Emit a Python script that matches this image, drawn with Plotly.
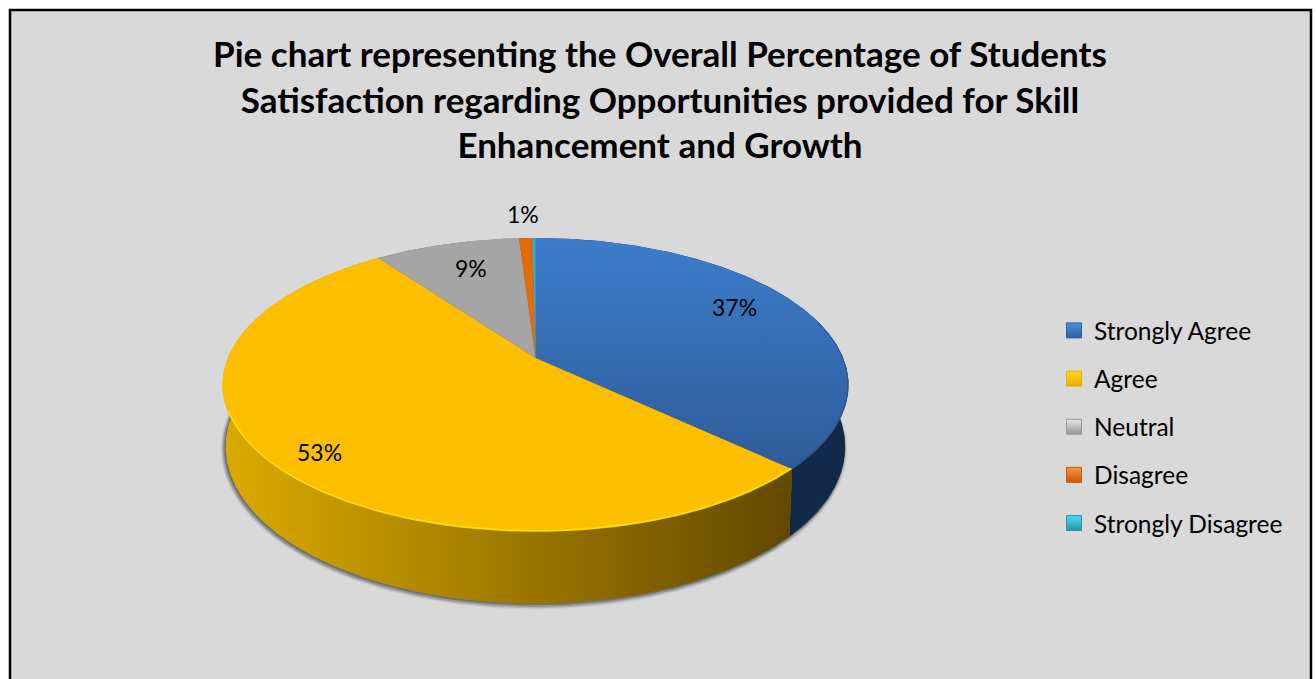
import numpy as np
import plotly.graph_objects as go

categories = ["Strongly Agree", "Agree", "Neutral", "Disagree", "Strongly Disagree"]
values = [37, 53, 9, 0.8, 0.2]
title_lines = [
    "Pie chart representing the Overall Percentage of Students",
    "Satisfaction regarding Opportunities provided for Skill",
    "Enhancement and Growth",
]

# styling
FONT = "Lato"
BG = "#d9d9d9"
legend_colors = ["#2f5f9f", "#e8ae00", "#969696", "#c85a08", "#2a93ad"]
legend_light = ["#4d8fdc", "#ffd820", "#e6e6e6", "#f79646", "#4fd8f5"]
top_grad = [["#3c7ccb", "#2e5c99"], ["#fcbf00", "#fcbf00"], ["#a5a5a5", "#a5a5a5"],
            ["#e36c09", "#e36c09"], ["#2fb0cc", "#2fb0cc"]]
wall_grad = [["#13294a", "#13294a"], ["#dcab00", "#624800"], ["#777777", "#777777"],
             ["#8a4206", "#8a4206"], ["#1a6a80", "#1a6a80"]]
label_xy = [(734, 307), (319, 452), (471, 268), (523, 214)]

# projection of the pie's top and bottom discs (perspective circle, pixel space)
CX = 535.5
TOP = dict(y0=358.0, a=0.1836, A=307.7, B=142.0)
BOT = dict(y0=418.0, a=0.1836, A=304.5, B=151.6)


def project(theta, p, grow=0.0, dx=0.0, dy=0.0):
    u, v = np.sin(theta), np.cos(theta)
    w = 1 + p["a"] * v
    return CX + dx + (p["A"] + grow) * u / w, p["y0"] + dy - (p["B"] + grow) * v / w


fractions = np.array(values, dtype=float) / sum(values)
edges = np.concatenate([[0], np.cumsum(fractions)]) * 2 * np.pi

fig = go.Figure()

# soft shadow under the pie
full = np.linspace(0, 2 * np.pi, 361)
for grow, dx, dy, op in [(3.5, -1.5, 1.5, 0.08), (2.5, -1.5, 1.5, 0.16), (1.5, -1.5, 1.5, 0.28), (0.5, -1, 1, 0.4)]:
    x, y = project(full, BOT, grow=grow, dx=dx, dy=dy)
    fig.add_trace(go.Scatter(x=x, y=y, mode="lines", line=dict(width=0), fill="toself",
                             fillcolor=f"rgba(60,60,60,{op})", showlegend=False, hoverinfo="skip"))

# side walls
for i, cat in enumerate(categories):
    th = np.linspace(edges[i], edges[i + 1], max(3, int(fractions[i] * 720)))
    xt, yt = project(th, TOP)
    xb, yb = project(th, BOT)
    x = np.concatenate([xt, xb[::-1], xt[:1]])
    y = np.concatenate([yt, yb[::-1], yt[:1]])
    c0, c1 = wall_grad[i]
    fig.add_trace(go.Scatter(
        x=x, y=y, mode="lines", line=dict(width=0), fill="toself",
        fillgradient=dict(type="horizontal", colorscale=[[0, c0], [1, c1]]),
        legendgroup=cat, showlegend=False, hoverinfo="skip"))

# top faces
for i, cat in enumerate(categories):
    th = np.linspace(edges[i], edges[i + 1], max(3, int(fractions[i] * 720)))
    xa, ya = project(th, TOP)
    x = np.concatenate([[CX], xa, [CX]])
    y = np.concatenate([[TOP["y0"]], ya, [TOP["y0"]]])
    c0, c1 = top_grad[i]
    fig.add_trace(go.Scatter(
        x=x, y=y, mode="lines", line=dict(width=0), fill="toself",
        fillgradient=dict(type="vertical", colorscale=[[0, c1], [1, c0]]),
        legendgroup=cat, showlegend=False, name=cat, hoverinfo="skip"))

# bevel rim on the two big slices
th = np.linspace(edges[1], edges[2] - 1.3, 400)
xr, yr = project(th, TOP, grow=-1)
fig.add_trace(go.Scatter(x=xr, y=yr, mode="lines", line=dict(color="#ffe000", width=1.5),
                         showlegend=False, hoverinfo="skip"))
th = np.linspace(edges[0] + 1.3, edges[1], 200)
xr, yr = project(th, TOP, grow=-0.5)
fig.add_trace(go.Scatter(x=xr, y=yr, mode="lines", line=dict(color="#2b5488", width=1),
                         showlegend=False, hoverinfo="skip"))

# legend entries
for i, cat in enumerate(categories):
    fig.add_trace(go.Scatter(
        x=[None], y=[None], mode="markers", name=cat, legendgroup=cat,
        marker=dict(symbol="square", size=15, color=legend_light[i],
                    gradient=dict(type="vertical", color=legend_colors[i]),
                    line=dict(color=legend_colors[i], width=1))))

# percent labels
labels = [f"{round(v / sum(values) * 100)}%" for v in values[:4]]
for (lx, ly), text in zip(label_xy, labels):
    fig.add_annotation(x=lx, y=ly, text=text, showarrow=False, xref="x", yref="y",
                       font=dict(family=FONT, size=23, color="#000000"))

# chart-area frame
fig.add_shape(type="rect", xref="x", yref="y", x0=10, y0=10, x1=1311, y1=720,
              line=dict(color="#000000", width=2.5), fillcolor=BG, layer="below")

fig.update_layout(
    width=1316, height=679, autosize=False,
    margin=dict(l=0, r=0, t=0, b=0),
    paper_bgcolor="#ffffff", plot_bgcolor="#ffffff",
    font=dict(family=FONT, color="#000000"),
    title=dict(text="<br>".join(title_lines), x=660 / 1316, xanchor="center",
               y=1 - 67 / 679, yanchor="top",
               font=dict(family=FONT, size=35, color="#000000", weight="bold")),
    xaxis=dict(range=[0, 1316], visible=False, fixedrange=True),
    yaxis=dict(range=[679, 0], visible=False, fixedrange=True),
    legend=dict(x=1054 / 1316, y=1 - 308 / 679, xanchor="left", yanchor="top",
                font=dict(family=FONT, size=24.5, color="#000000"),
                tracegroupgap=13.3, bgcolor="rgba(0,0,0,0)", itemclick=False, itemdoubleclick=False),
)

fig.write_html("out.html", config={"displayModeBar": False},
               post_script="document.body.style.margin='0';")
